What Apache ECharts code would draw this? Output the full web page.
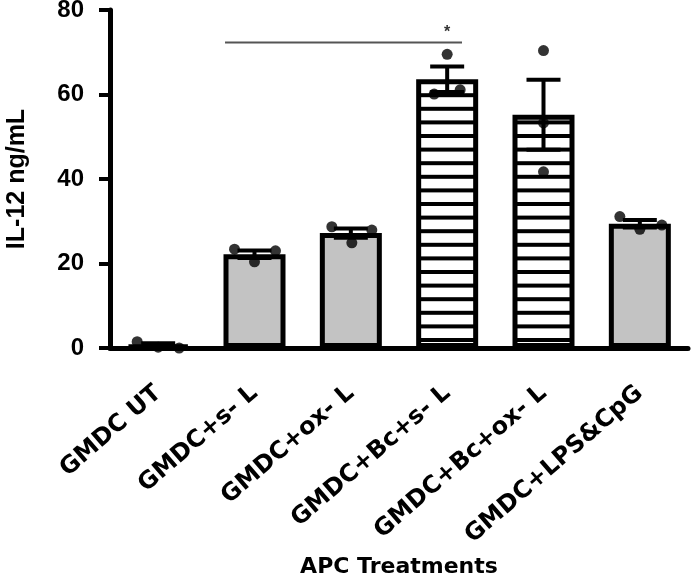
<!DOCTYPE html>
<html>
<head>
<meta charset="utf-8">
<script src="https://cdn.jsdelivr.net/npm/echarts@6/dist/echarts.min.js"></script>
<style>
html,body{margin:0;padding:0;background:#fff;}
#chart{width:691px;height:581px;}
</style>
</head>
<body>
<div id="chart"></div>
<script>
// ---- data ----
const categories = ['GMDC UT', 'GMDC+s- L', 'GMDC+ox- L', 'GMDC+Bc+s- L', 'GMDC+Bc+ox- L', 'GMDC+LPS&CpG'];
const barMeans = [0.6, 22.2, 27.2, 63.6, 55.2, 29.4];
const barSem = [0.5, 0.9, 1.1, 3.0, 8.3, 0.9];
const hatched = [false, false, false, true, true, false];
const pointValues = [
  [1.5, 0.2, 0.0],
  [23.4, 20.4, 23.0],
  [28.7, 24.9, 27.9],
  [69.5, 60.1, 61.1],
  [70.4, 53.3, 41.7],
  [31.1, 28.1, 29.1]
];
const yTicks = [0, 20, 40, 60, 80];
const sigFrom = 1, sigTo = 3, sigValue = 72.3, sigLabel = '*';
const yTitle = 'IL-12 ng/mL';
const xTitle = 'APC Treatments';

// ---- styling helpers (pixel jitter of the dots) ----
const jitterPx = [
  [-21, 0, 21],
  [-20, 0, 21],
  [-19, 1, 21],
  [0, -13, 13],
  [0, 0, 0],
  [-20, 0, 22]
];

// stripe pattern for hatched bars
const pat = document.createElement('canvas');
pat.width = 20; pat.height = 68;
(function(){
  const c = pat.getContext('2d');
  c.fillStyle = '#ffffff'; c.fillRect(0,0,20,68);
  c.fillStyle = '#000000';
  for (let k = 0; k <= 5; k++) {
    const cy = k * 13.6;
    c.fillRect(0, cy - 2, 20, 4);
  }
})();

const barData = barMeans.map((v, i) => ({
  value: v,
  itemStyle: { color: hatched[i] ? { image: pat, repeat: 'repeat' } : '#c3c3c3' }
}));

const scatterData = [];
pointValues.forEach((arr, i) => {
  arr.forEach((v, j) => {
    scatterData.push({ value: [i, v], symbolOffset: [jitterPx[i][j], 0] });
  });
});

const errData = barMeans.map((m, i) => [i, m, barSem[i]]);

const chart = echarts.init(document.getElementById('chart'), null, { renderer: 'canvas' });
const axisFontY = 'Arial, "Liberation Sans", sans-serif';
const axisFontX = '"DejaVu Sans", sans-serif';

chart.setOption({
  animation: false,
  backgroundColor: '#fff',
  grid: { left: 110, top: 10, width: 578, height: 338, containLabel: false, outerBoundsMode: 'none' },
  xAxis: {
    type: 'category',
    data: categories,
    axisLine: { lineStyle: { color: '#000', width: 5 } },
    axisTick: { alignWithLabel: true, length: 13, lineStyle: { color: '#000', width: 4 } },
    axisLabel: {
      interval: 0, rotate: 41, margin: 42,
      color: '#000', fontFamily: axisFontX, fontWeight: 'bold', fontSize: 24
    },
    name: xTitle,
    nameLocation: 'middle',
    nameGap: 208,
    nameTextStyle: { color: '#000', fontFamily: axisFontX, fontWeight: 'bold', fontSize: 22 }
  },
  yAxis: {
    type: 'value',
    min: 0, max: 80, interval: 20,
    axisLine: { show: true, lineStyle: { color: '#000', width: 5 } },
    axisTick: { show: true, length: 11, lineStyle: { color: '#000', width: 4 } },
    splitLine: { show: false },
    axisLabel: {
      margin: 26, color: '#000', fontFamily: axisFontY, fontWeight: 'bold', fontSize: 24,
      formatter: v => (yTicks.indexOf(v) >= 0 ? String(v) : '')
    },
    name: yTitle,
    nameLocation: 'middle',
    nameGap: 80,
    nameRotate: 90,
    nameTextStyle: { color: '#000', fontFamily: axisFontY, fontWeight: 'bold', fontSize: 25 }
  },
  series: [
    {
      type: 'bar',
      data: barData,
      barWidth: 62,
      itemStyle: { borderColor: '#000', borderWidth: 5 },
      z: 2
    },
    {
      type: 'custom',
      data: errData,
      z: 3,
      renderItem: function(params, api) {
        const i = api.value(0), m = api.value(1), s = api.value(2);
        const up = api.coord([i, m + s]);
        const lo = api.coord([i, m - s]);
        const half = 17;
        const st = { stroke: '#000', lineWidth: 4 };
        return {
          type: 'group',
          children: [
            { type: 'line', shape: { x1: up[0], y1: up[1], x2: lo[0], y2: lo[1] }, style: st },
            { type: 'line', shape: { x1: up[0] - half, y1: up[1], x2: up[0] + half, y2: up[1] }, style: st },
            { type: 'line', shape: { x1: lo[0] - half, y1: lo[1], x2: lo[0] + half, y2: lo[1] }, style: st }
          ]
        };
      }
    },
    {
      type: 'scatter',
      data: scatterData,
      symbol: 'circle',
      symbolSize: 11,
      itemStyle: { color: '#000' },
      z: 4
    },
    {
      type: 'custom',
      data: [[sigFrom, sigTo, sigValue]],
      z: 5,
      renderItem: function(params, api) {
        const a = api.coord([api.value(0), api.value(2)]);
        const b = api.coord([api.value(1), api.value(2)]);
        const band = api.size([1, 0])[0];
        const x1 = a[0] - 0.306 * band, x2 = b[0] + 0.154 * band;
        return {
          type: 'group',
          children: [
            { type: 'line', shape: { x1: x1, y1: a[1], x2: x2, y2: a[1] }, style: { stroke: '#555', lineWidth: 2 } },
            { type: 'text', style: { text: sigLabel, x: b[0], y: a[1] - 2, align: 'center', verticalAlign: 'bottom',
              fill: '#333', font: 'bold 16px "Liberation Sans", Arial, sans-serif' } }
          ]
        };
      }
    }
  ]
});
</script>
</body>
</html>
